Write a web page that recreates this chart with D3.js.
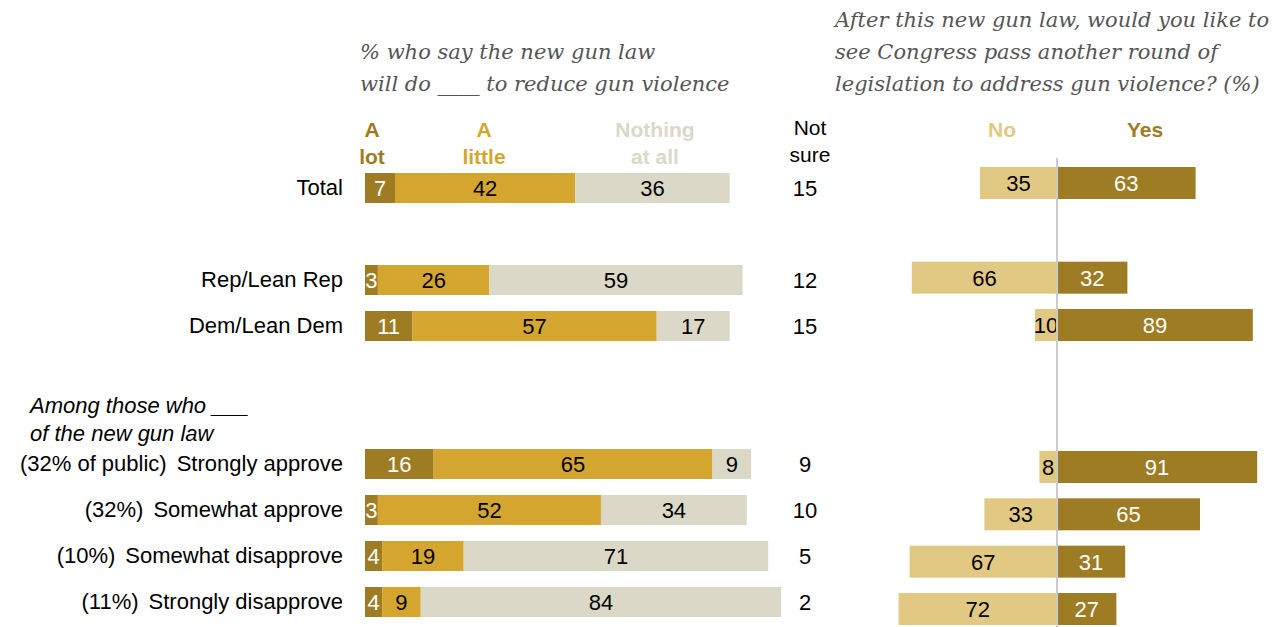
<!DOCTYPE html>
<html>
<head>
<meta charset="utf-8">
<script src="https://cdn.jsdelivr.net/npm/d3@7/dist/d3.min.js"></script>
<style>
  body { margin: 0; background: #fff; }
  svg text { font-family: "Liberation Sans", Arial, sans-serif; }
  .title { font-family: "DejaVu Serif", Georgia, serif !important; font-style: italic; fill: #555; font-size: 21px; }
</style>
</head>
<body>
<div class="graph"></div>
<script>
const width = 1288;
const height = 627;

// data
const categories = ["Total", "Rep/Lean Rep", "Dem/Lean Dem", "Strongly approve", "Somewhat approve", "Somewhat disapprove", "Strongly disapprove"];
const prefixes = ["", "", "", "(32% of public)", "(32%)", "(10%)", "(11%)"];
const rowSlot = [0, 2, 3, 6, 7, 8, 9];
const aLot = [7, 3, 11, 16, 3, 4, 4];
const aLittle = [42, 26, 57, 65, 52, 19, 9];
const nothing = [36, 59, 17, 9, 34, 71, 84];
const notSure = [15, 12, 15, 9, 10, 5, 2];
const no = [35, 66, 10, 8, 33, 67, 72];
const yes = [63, 32, 89, 91, 65, 31, 27];

const colLot = "#9e7c24";
const colLittle = "#d4a62f";
const colNothing = "#dbd8c7";
const colNo = "#e2c983";
const colYes = "#9e7c24";

const fs = 21;
const fsLabel = 22;
const fsNum = 22;

const canvas = d3.select(".graph")
  .append("svg")
  .attr("width", width)
  .attr("height", height);

// scales
const x = d3.scaleLinear().domain([0, 100]).range([365, 365 + 429]);
const y = d3.scaleLinear().domain([0, 9]).range([188, 602]);
const yR = d3.scaleLinear().domain([0, 9]).range([183, 609]);
const xR = d3.scaleLinear().domain([-100, 100]).range([1057 - 220, 1057 + 220]);
const barH = 30;

// titles
const t1 = canvas.append("text").attr("class", "title").attr("x", 360).attr("y", 59);
t1.append("tspan").text("% who say the new gun law");
t1.append("tspan").attr("x", 360).attr("y", 91).text("will do ____ to reduce gun violence");

const t2 = canvas.append("text").attr("class", "title").attr("x", 835).attr("y", 27);
t2.append("tspan").text("After this new gun law, would you like to");
t2.append("tspan").attr("x", 835).attr("y", 59).text("see Congress pass another round of");
t2.append("tspan").attr("x", 835).attr("y", 91).text("legislation to address gun violence? (%)");

// legend
const legend = [
  { lines: ["A", "lot"], x: 372, color: colLot },
  { lines: ["A", "little"], x: 484, color: colLittle },
  { lines: ["Nothing", "at all"], x: 655, color: colNothing },
];
legend.forEach(l => {
  l.lines.forEach((s, i) => {
    canvas.append("text")
      .attr("x", l.x).attr("y", 137 + i * 27)
      .attr("text-anchor", "middle")
      .attr("font-weight", "bold")
      .attr("font-size", fs)
      .attr("fill", l.color)
      .text(s);
  });
});
["Not", "sure"].forEach((s, i) => {
  canvas.append("text")
    .attr("x", 810).attr("y", 135 + i * 27)
    .attr("text-anchor", "middle")
    .attr("font-size", fs)
    .attr("fill", "#000")
    .text(s);
});
canvas.append("text").attr("x", 1002).attr("y", 137).attr("text-anchor", "middle")
  .attr("font-weight", "bold").attr("font-size", fs).attr("fill", colNo).text("No");
canvas.append("text").attr("x", 1145).attr("y", 137).attr("text-anchor", "middle")
  .attr("font-weight", "bold").attr("font-size", fs).attr("fill", colYes).text("Yes");

// group note
const note = canvas.append("text")
  .attr("x", 30).attr("y", 413)
  .attr("font-style", "italic").attr("font-size", fsLabel).attr("fill", "#000");
note.append("tspan").text("Among those who ___");
note.append("tspan").attr("x", 30).attr("y", 441).text("of the new gun law");

// category labels
categories.forEach((c, i) => {
  const t = canvas.append("text")
    .attr("x", 343).attr("y", y(rowSlot[i]) + 7)
    .attr("text-anchor", "end")
    .attr("font-size", fsLabel)
    .attr("fill", "#000");
  if (prefixes[i]) {
    t.append("tspan").text(prefixes[i]);
    t.append("tspan").attr("dx", 10).text(c);
  } else {
    t.text(c);
  }
});

// stacked bars
const rows = categories.map((c, i) => ({
  i,
  segs: [
    { v: aLot[i], start: 0, color: colLot, text: "#fff" },
    { v: aLittle[i], start: aLot[i], color: colLittle, text: "#000" },
    { v: nothing[i], start: aLot[i] + aLittle[i], color: colNothing, text: "#000" },
  ]
}));

const rowG = canvas.selectAll(".row")
  .data(rows)
  .enter().append("g")
  .attr("class", "row")
  .attr("transform", d => `translate(0, ${y(rowSlot[d.i])})`);

rowG.selectAll("rect")
  .data(d => d.segs)
  .enter().append("rect")
  .attr("x", d => x(d.start))
  .attr("y", -barH / 2)
  .attr("width", d => x(d.start + d.v) - x(d.start))
  .attr("height", barH)
  .attr("fill", d => d.color);

rowG.selectAll("text.val")
  .data(d => d.segs)
  .enter().append("text")
  .attr("class", "val")
  .attr("x", d => (x(d.start) + x(d.start + d.v)) / 2)
  .attr("y", 8)
  .attr("text-anchor", "middle")
  .attr("font-size", fsNum)
  .attr("fill", d => d.text)
  .text(d => d.v);

rowG.append("text")
  .attr("x", 805).attr("y", 8)
  .attr("text-anchor", "middle")
  .attr("font-size", fsNum)
  .attr("fill", "#000")
  .text(d => notSure[d.i]);

// diverging bars
const divG = canvas.selectAll(".div")
  .data(categories.map((c, i) => i))
  .enter().append("g")
  .attr("class", "div")
  .attr("transform", i => `translate(0, ${yR(rowSlot[i])})`);

divG.append("rect")
  .attr("x", i => xR(-no[i]))
  .attr("y", -barH / 2 - 1)
  .attr("width", i => xR(0) - xR(-no[i]))
  .attr("height", barH + 2)
  .attr("fill", colNo);

divG.append("rect")
  .attr("x", xR(0))
  .attr("y", -barH / 2 - 1)
  .attr("width", i => xR(yes[i]) - xR(0))
  .attr("height", barH + 2)
  .attr("fill", colYes);

divG.append("text")
  .attr("x", i => (xR(-no[i]) + xR(0)) / 2)
  .attr("y", 8)
  .attr("text-anchor", "middle")
  .attr("font-size", fsNum)
  .attr("fill", "#000")
  .text(i => no[i]);

divG.append("text")
  .attr("x", i => (xR(yes[i]) + xR(0)) / 2)
  .attr("y", 8)
  .attr("text-anchor", "middle")
  .attr("font-size", fsNum)
  .attr("fill", "#fff")
  .text(i => yes[i]);

canvas.append("line")
  .attr("x1", xR(0)).attr("x2", xR(0))
  .attr("y1", 158).attr("y2", height)
  .attr("stroke", "#ccc")
  .attr("stroke-width", 2);
</script>
</body>
</html>
